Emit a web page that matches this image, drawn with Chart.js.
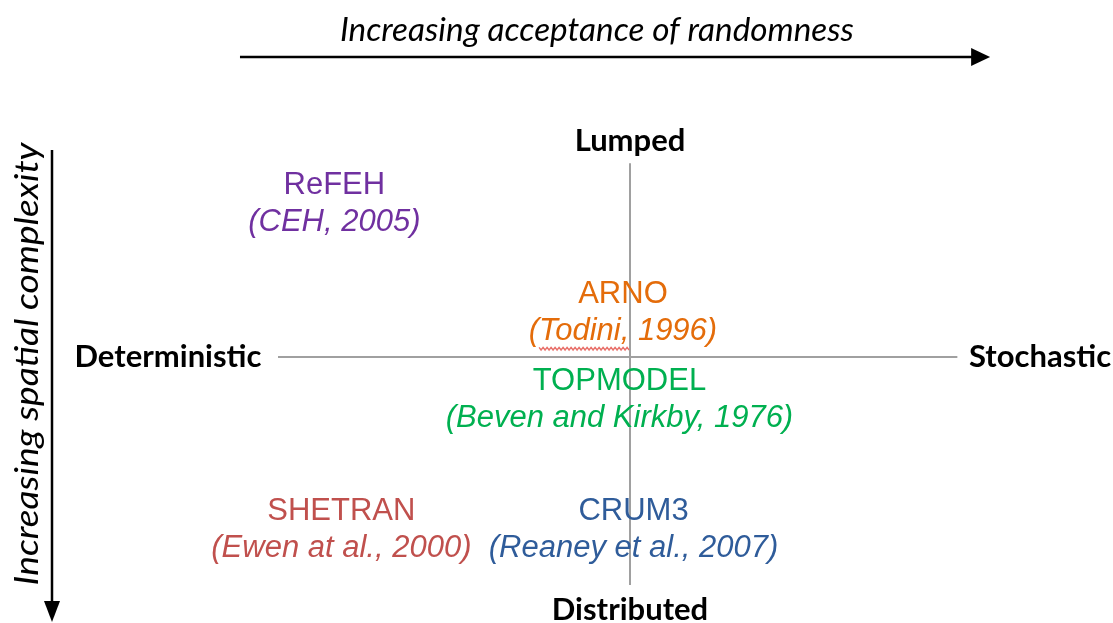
<!DOCTYPE html>
<html lang="en">
<head>
  <meta charset="UTF-8" />
  <title>Model classification</title>
  <script src="https://cdn.jsdelivr.net/npm/chart.js"></script>
  <style>
    html, body { margin: 0; padding: 0; background: #fff; }
    #wrap { width: 1113px; height: 623px; }
  </style>
</head>
<body>
<div id="wrap"><canvas id="chart"></canvas></div>
<script>
// randomness axis: -1 deterministic .. 1 stochastic
// spatial axis: 1 lumped .. -1 distributed
const modelNames = ['ReFEH', 'ARNO', 'TOPMODEL', 'SHETRAN', 'CRUM3'];
const modelRefs  = ['(CEH, 2005)', '(Todini, 1996)', '(Beven and Kirkby, 1976)', '(Ewen at al., 2000)', '(Reaney et al., 2007)'];
const randomness = [-0.84, -0.02, -0.03, -0.82, 0.01];
const spatial    = [0.67, 0.19, -0.19, -0.76, -0.76];
const modelColors = ['#7030A0', '#E46C0A', '#00B050', '#C0504D', '#2F5C9A'];

const poles = { left: 'Deterministic', right: 'Stochastic', top: 'Lumped', bottom: 'Distributed' };
const topTitle = 'Increasing acceptance of randomness';
const sideTitle = 'Increasing spatial complexity';

const boldFont = 'bold 31px Lato, "Open Sans", sans-serif';
const italicFont = 'italic 32px Lato, "Open Sans", sans-serif';
const modelFont = '31px "Liberation Sans", Arial, sans-serif';

const diagram = {
  id: 'diagram',
  beforeDatasetsDraw(chart) {
    const { ctx, scales: { x, y } } = chart;
    ctx.save();
    // quadrant cross
    ctx.strokeStyle = '#A0A0A0';
    ctx.lineWidth = 2;
    ctx.beginPath();
    ctx.moveTo(x.getPixelForValue(-1), y.getPixelForValue(0));
    ctx.lineTo(x.getPixelForValue(0.93), y.getPixelForValue(0));
    ctx.moveTo(x.getPixelForValue(0), y.getPixelForValue(0.85));
    ctx.lineTo(x.getPixelForValue(0), y.getPixelForValue(-1));
    ctx.stroke();

    // pole labels
    ctx.fillStyle = '#000';
    ctx.font = boldFont;
    ctx.textAlign = 'center';
    ctx.textBaseline = 'middle';
    ctx.fillText(poles.top, x.getPixelForValue(0), y.getPixelForValue(0) - 216);
    ctx.fillText(poles.bottom, x.getPixelForValue(0), y.getPixelForValue(0) + 253);
    ctx.fillText(poles.left, x.getPixelForValue(-1) - 110, y.getPixelForValue(0));
    ctx.fillText(poles.right, x.getPixelForValue(1.165), y.getPixelForValue(0));

    // top arrow
    const ay = 57;
    const ax0 = x.getPixelForValue(-1.108), ax1 = x.getPixelForValue(1.023);
    ctx.strokeStyle = '#000';
    ctx.fillStyle = '#000';
    ctx.lineWidth = 2.5;
    ctx.beginPath();
    ctx.moveTo(ax0, ay); ctx.lineTo(ax1 - 14, ay); ctx.stroke();
    ctx.beginPath();
    ctx.moveTo(ax1, ay); ctx.lineTo(ax1 - 19, ay - 9); ctx.lineTo(ax1 - 19, ay + 9); ctx.closePath(); ctx.fill();
    ctx.font = italicFont;
    ctx.save();
    ctx.translate(x.getPixelForValue(-0.094), 31);
    ctx.scale(1.04, 1);
    ctx.fillText(topTitle, 0, 0);
    ctx.restore();

    // side arrow
    const sx = 52, sy0 = 150, sy1 = 622;
    ctx.beginPath();
    ctx.moveTo(sx, sy0); ctx.lineTo(sx, sy1 - 14); ctx.stroke();
    ctx.beginPath();
    ctx.moveTo(sx, sy1); ctx.lineTo(sx - 8, sy1 - 21); ctx.lineTo(sx + 8, sy1 - 21); ctx.closePath(); ctx.fill();
    ctx.translate(28, 364);
    ctx.rotate(-Math.PI / 2);
    ctx.scale(1.16, 1);
    ctx.fillText(sideTitle, 0, 0);
    ctx.restore();
  },
  afterDatasetsDraw(chart) {
    const { ctx } = chart;
    const meta = chart.getDatasetMeta(0);
    ctx.save();
    ctx.textAlign = 'center';
    ctx.textBaseline = 'middle';
    meta.data.forEach((pt, i) => {
      ctx.fillStyle = modelColors[i];
      ctx.font = modelFont;
      ctx.fillText(modelNames[i], pt.x, pt.y - 19);
      ctx.font = 'italic ' + modelFont;
      ctx.fillText(modelRefs[i], pt.x, pt.y + 18);
      // spell-check squiggle under "Todini"
      if (modelRefs[i].includes('Todini')) {
        const full = ctx.measureText(modelRefs[i]).width;
        const start = pt.x - full / 2 + ctx.measureText('(').width;
        const w = ctx.measureText('Todini,').width;
        const uy = pt.y + 35;
        ctx.strokeStyle = '#E8706A';
        ctx.lineWidth = 1.4;
        ctx.beginPath();
        for (let k = 0; k <= w; k += 2) {
          const yy = uy + ((k / 2) % 2 === 0 ? -1.3 : 1.3);
          if (k === 0) ctx.moveTo(start + k, yy); else ctx.lineTo(start + k, yy);
        }
        ctx.stroke();
      }
    });
    ctx.restore();
  }
};

new Chart(document.getElementById('chart'), {
  type: 'scatter',
  data: {
    datasets: [{
      data: randomness.map((v, i) => ({ x: v, y: spatial[i] })),
      pointRadius: 0,
      pointHoverRadius: 0
    }]
  },
  options: {
    responsive: true,
    maintainAspectRatio: false,
    animation: false,
    layout: { padding: { left: 278, right: 131, top: 129, bottom: 38 } },
    plugins: { legend: { display: false }, tooltip: { enabled: false } },
    scales: {
      x: { type: 'linear', min: -1, max: 1, display: false },
      y: { type: 'linear', min: -1, max: 1, display: false }
    }
  },
  plugins: [diagram]
});
</script>
</body>
</html>
